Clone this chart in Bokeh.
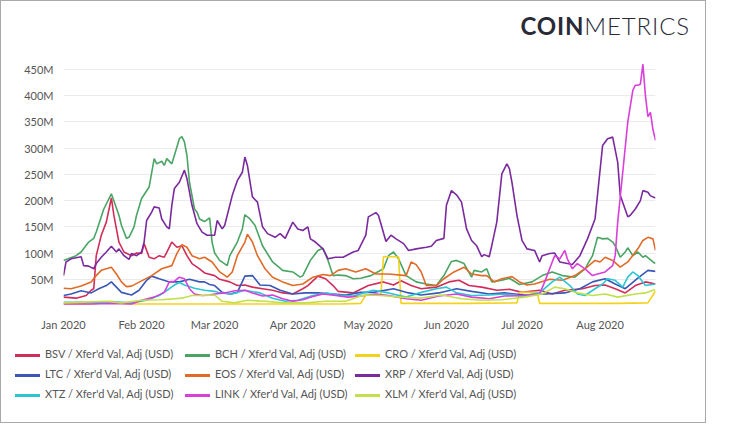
import datetime as dt
from bokeh.plotting import figure
from bokeh.layouts import column
from bokeh.models import (Range1d, FixedTicker, PrintfTickFormatter, DatetimeTickFormatter,
                          MonthsTicker, Div)
from bokeh.embed import file_html
from bokeh.resources import INLINE

START = dt.datetime(2020, 1, 1)
END_DAY = 235

# ---- data: day offsets from 2020-01-01 and values in millions USD ----
bsv_days = [0,5,9,11,12,13,15,17,19,20,22,24,27,29,31,32,34,36,38,40,43,45,47,49,51,54,56,60,62,66,69,72,75,79,83,87,91,95,97,101,104,107,109,115,121,127,131,134,138,142,148,153,157,161,166,172,177,182,189,194,199,206,211,215,219,223,227,231,235]
bsv_vals = [16,14,19,29,32,95,134,159,205,172,121,102,95,100,99,118,92,89,95,92,121,111,114,95,80,70,62,57,50,45,38,39,35,32,29,24,22,32,38,56,51,38,27,24,38,45,39,47,38,32,35,45,48,38,35,29,31,25,29,22,29,32,38,39,32,24,38,45,41]

bch_days = [0,5,7,10,12,13,16,19,22,23,25,26,28,29,31,34,36,37,39,40,41,43,44,46,47,48,49,50,52,53,54,56,58,59,60,62,65,66,69,71,72,74,76,79,83,87,91,94,95,98,101,103,105,107,109,112,115,118,122,127,129,131,133,136,140,144,148,151,154,156,159,162,163,166,168,170,174,177,181,186,190,194,198,203,207,210,212,214,216,218,219,221,223,224,226,228,230,231,234,235]
bch_vals = [86,95,102,121,128,140,184,213,172,153,128,130,150,172,204,226,280,270,275,267,280,270,286,318,322,312,286,235,184,178,165,160,167,120,100,86,76,95,121,146,173,165,153,114,83,67,64,54,57,86,105,109,86,57,58,57,51,52,57,70,95,102,89,57,45,41,38,57,84,86,80,54,67,64,70,45,48,52,40,45,57,64,57,54,70,95,130,127,128,121,114,92,102,110,95,102,92,95,83,80]

cro_days = [0,12,16,19,22,26,60,90,110,118,120,126,127,133,134,160,180,181,188,189,220,232,234,235]
cro_vals = [3,3,6,8,5,3,3,3,3,4,20,20,93,93,4,4,5,25,25,4,4,5,20,28]

ltc_days = [0,3,7,11,14,17,19,21,23,27,30,33,35,38,42,46,50,54,56,58,60,63,66,69,72,75,78,82,86,91,96,101,107,112,118,123,131,137,142,149,156,162,169,175,183,191,199,205,210,215,219,223,228,232,235]
ltc_vals = [19,22,28,24,32,38,45,35,25,20,29,48,56,51,45,45,50,45,45,40,38,25,22,25,56,57,39,38,29,22,24,24,22,20,25,25,32,24,20,24,32,27,22,24,20,22,24,32,45,51,41,32,52,67,65]

eos_days = [0,3,7,11,13,15,19,21,23,25,27,31,35,39,43,45,47,49,51,54,56,59,62,65,67,69,72,73,75,77,80,83,87,91,95,99,103,106,109,112,116,120,124,129,136,138,140,142,144,148,151,155,159,162,166,168,171,174,178,181,184,187,193,198,203,207,211,213,215,218,221,224,228,230,232,234,235]
eos_vals = [33,32,37,45,57,67,73,60,45,36,37,47,57,70,76,99,116,111,95,89,92,83,64,54,64,95,121,136,121,95,70,54,45,38,41,54,59,57,67,70,64,70,60,60,57,83,78,64,38,38,51,64,73,60,57,57,45,51,55,45,39,41,50,48,57,70,86,83,92,86,73,83,108,124,130,127,105]

xrp_days = [0,1,3,6,7,8,10,12,13,15,17,19,21,22,24,26,27,29,31,32,33,35,36,38,39,41,42,43,44,46,48,49,51,53,55,57,60,61,63,64,67,69,71,72,73,75,77,79,81,84,86,88,91,93,95,97,98,100,103,105,108,111,115,117,120,121,124,125,126,128,130,132,135,137,140,144,146,148,151,152,154,156,158,160,162,164,166,167,169,170,172,174,176,177,178,180,182,184,187,189,190,193,195,197,200,202,205,208,211,214,216,218,220,221,224,225,227,229,230,232,233,235]
xrp_vals = [57,83,89,92,93,76,75,70,80,92,102,113,102,108,95,88,99,95,102,121,162,178,188,186,165,150,146,191,223,235,258,242,191,156,140,134,134,162,146,153,210,238,254,283,267,207,197,150,137,130,137,128,159,146,143,150,127,121,108,89,92,92,102,105,134,169,177,172,156,122,134,127,118,105,108,111,113,124,128,191,219,211,197,146,124,114,93,97,93,114,159,251,270,261,235,172,124,108,105,83,95,99,100,83,80,78,95,127,165,305,318,321,273,210,169,172,184,200,219,216,209,205]

xtz_days = [0,10,20,27,33,38,42,44,46,48,52,56,60,62,67,72,78,83,88,93,99,104,109,115,120,123,129,136,142,148,152,156,162,169,175,182,189,194,197,201,204,207,211,214,216,219,222,224,226,228,231,235]
xtz_vals = [6,6,7,5,10,19,32,39,44,39,33,29,27,24,22,29,24,14,8,10,19,24,20,18,25,29,24,16,25,32,35,24,19,20,22,18,24,45,54,38,22,19,32,41,51,48,35,54,64,57,38,41]

link_days = [0,10,20,27,31,36,40,42,44,46,48,50,52,55,58,60,64,68,72,75,79,83,87,91,95,99,103,108,113,118,124,129,136,142,149,156,162,169,175,183,189,191,194,195,197,199,200,202,204,207,210,212,215,218,219,220,222,224,225,226,227,228,229,230,231,232,233,234,235]
link_vals = [3,3,4,3,10,16,25,45,46,54,51,32,22,19,20,22,24,28,29,24,18,20,13,8,11,17,22,19,16,18,22,19,13,10,18,22,16,13,18,19,22,45,83,95,89,105,89,70,80,70,57,60,64,76,95,159,254,350,380,410,420,420,422,460,400,360,368,335,315]

xlm_days = [0,17,23,31,39,47,51,56,60,63,68,73,80,87,96,104,112,118,120,126,134,142,150,158,166,174,183,190,195,199,204,210,215,220,227,231,234,235]
xlm_vals = [5,8,5,10,11,14,19,19,20,8,5,10,8,5,5,8,8,18,20,19,16,14,20,13,10,11,16,22,35,32,24,19,22,16,22,24,29,30]

series_names = ["BSV", "BCH", "CRO", "LTC", "EOS", "XRP", "XTZ", "LINK", "XLM"]
series_days = [bsv_days, bch_days, cro_days, ltc_days, eos_days, xrp_days, xtz_days, link_days, xlm_days]
series_vals = [bsv_vals, bch_vals, cro_vals, ltc_vals, eos_vals, xrp_vals, xtz_vals, link_vals, xlm_vals]
series_colors = ["#d12d5a", "#4aa564", "#f3d21f", "#3a57b5", "#e06b28", "#7b2a9e", "#2cc6d3", "#d840d8", "#c2e04e"]

y_ticks = [50, 100, 150, 200, 250, 300, 350, 400, 450]

FONT = "Lato"
TXT = "#555555"
W = 704

# ---- logo ----
logo = Div(
    text=('<div style="width:689px;text-align:right;padding-top:13px;font-family:Lato;'
          'font-size:24px;line-height:24px;color:#2a2a36;white-space:nowrap;">'
          '<span style="font-weight:700;letter-spacing:0.8px;">COIN</span>'
          '<span style="font-weight:300;letter-spacing:0.9px;">METRICS</span></div>'),
    width=W, height=40, margin=0)

# ---- main chart ----
p = figure(width=W, height=294, x_axis_type="datetime", output_backend="svg",
           toolbar_location=None,
           x_range=Range1d(START, START + dt.timedelta(days=END_DAY)),
           y_range=Range1d(0, 469),
           min_border_left=62, min_border_right=50, min_border_top=18, min_border_bottom=30,
           margin=0)
p.outline_line_color = None
p.xgrid.grid_line_color = None
p.ygrid.grid_line_color = "#ebebeb"
p.ygrid.ticker = FixedTicker(ticks=y_ticks)

p.yaxis.ticker = FixedTicker(ticks=y_ticks)
p.yaxis.formatter = PrintfTickFormatter(format="%dM")
p.xaxis.ticker = MonthsTicker(months=list(range(12)))
p.xaxis.formatter = DatetimeTickFormatter(months="%b %Y", days="%b %Y", years="%b %Y")
for ax in (p.xaxis[0], p.yaxis[0]):
    ax.axis_line_color = None
    ax.major_tick_line_color = None
    ax.minor_tick_line_color = None
    ax.major_tick_out = 0
    ax.major_tick_in = 0
    ax.major_label_text_font = FONT
    ax.major_label_text_font_size = "11px"
    ax.major_label_text_color = TXT
    ax.major_label_standoff = 10
p.xaxis[0].major_label_standoff = 12

cells = []
for name, days, vals, col in zip(series_names, series_days, series_vals, series_colors):
    assert len(days) == len(vals), name
    xs = [START + dt.timedelta(days=d) for d in days]
    p.line(x=xs, y=vals, line_color=col, line_width=1.6)
    cells.append(
        '<span style="display:inline-block;width:170px;">'
        f'<span style="display:inline-block;width:25px;height:3px;background:{col};'
        'vertical-align:middle;margin-right:5px;"></span>'
        f"{name} / Xfer'd Val, Adj (USD)</span>")

# ---- legend (3 columns, row-major in series order) ----
rows_html = "".join(
    '<div style="height:20px;white-space:nowrap;">' + "".join(cells[i:i + 3]) + '</div>'
    for i in range(0, len(cells), 3))
legend_div = Div(
    text=('<div style="padding:9px 0 0 14px;font-family:Lato;font-size:11px;color:#555555;'
          'line-height:20px;">' + rows_html + '</div>'),
    width=W, height=87, margin=0)

page = column(logo, p, legend_div, spacing=0, styles={"border": "1px solid #a9a9a9"})

open("out.html", "w").write(file_html(page, INLINE))
